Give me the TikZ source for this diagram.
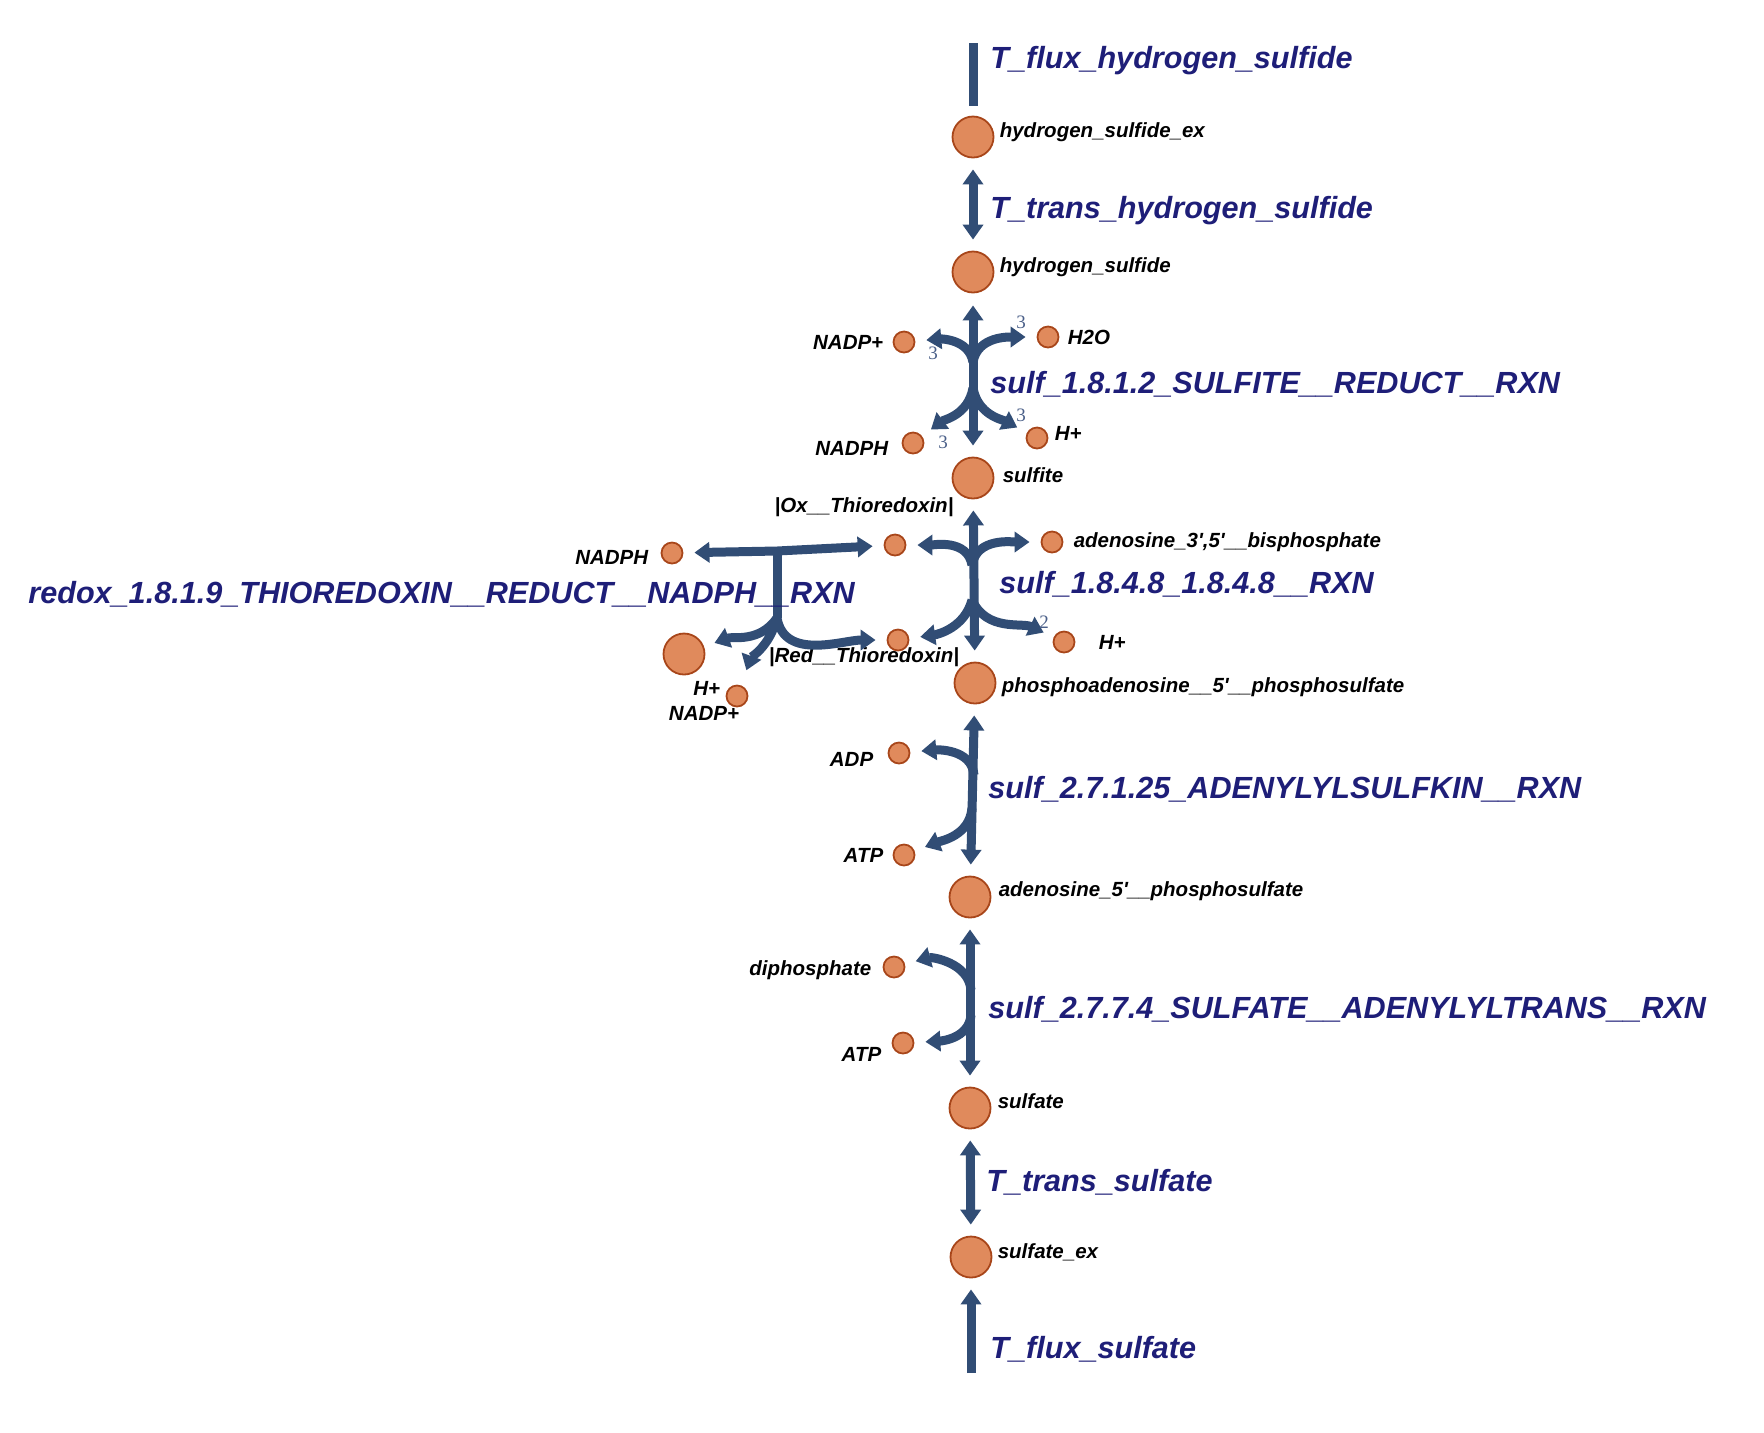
\documentclass[tikz,border=0pt]{standalone}
\usepackage{fontspec}
\usepackage{xcolor}
\usetikzlibrary{arrows.meta, positioning, calc}
\newfontfamily\labelfont{Liberation Sans}
\newfontfamily\stoichfont{Liberation Serif}
\definecolor{fluxblue}{HTML}{314D75}
\definecolor{metfill}{HTML}{E08A5C}
\definecolor{metdraw}{HTML}{A8461A}
\definecolor{rxnnavy}{HTML}{1E1E78}
\definecolor{stoichblue}{HTML}{4A5F88}

\begin{document}
\begin{tikzpicture}[
    x=0.5pt, y=-0.5pt,
    >={Triangle[width=10pt, length=7.5pt]},
    flux/.style={draw=fluxblue, line width=4.5pt, shorten >=5.5pt},
    revflux/.style={flux, <->, shorten <=5.5pt},
    bigmet/.style={circle, draw=metdraw, fill=metfill, line width=0.9pt, minimum size=20.5pt, inner sep=0pt},
    smallmet/.style={bigmet, minimum size=10.5pt},
    metlabel/.style={inner sep=0pt, font=\labelfont\bfseries\itshape\fontsize{10.25}{12}\selectfont},
    rxnlabel/.style={inner sep=0pt, anchor=west, text=rxnnavy, font=\labelfont\bfseries\itshape\fontsize{15.3}{18}\selectfont},
    stoich/.style={inner sep=0pt, text=stoichblue, font=\stoichfont\fontsize{9.5}{10}\selectfont}
]
    \useasboundingbox (0,0) rectangle (1764,1432);

    % main metabolites
    \node[bigmet] (h2sex) at (973,137) {};
    \node[bigmet] (h2s) at (973,272) {};
    \node[bigmet] (so3) at (973,478) {};
    \node[bigmet] (paps) at (975,683) {};
    \node[bigmet] (aps) at (970,897) {};
    \node[bigmet] (so4) at (970,1108) {};
    \node[bigmet] (so4ex) at (971,1257) {};
    % side metabolites
    \node[smallmet] (nadpA) at (904,342) {};
    \node[smallmet] (h2o) at (1048,337) {};
    \node[smallmet] (nadphA) at (913,443) {};
    \node[smallmet] (hA) at (1037,438) {};
    \node[smallmet] (pap) at (1052,542) {};
    \node[smallmet] (trxox) at (895,545) {};
    \node[smallmet] (trxred) at (898,640) {};
    \node[smallmet] (hB) at (1064,642) {};
    \node[smallmet] (nadphB) at (672,553) {};
    \node[bigmet] (nadpB) at (684,654) {};
    \node[smallmet] (hC) at (737,696) {};
    \node[smallmet] (adp) at (899,753) {};
    \node[smallmet] (atpA) at (904,855) {};
    \node[smallmet] (ppi) at (894,967) {};
    \node[smallmet] (atpB) at (903,1043) {};

    % metabolite labels
    \node[metlabel, right=2.5pt of h2sex, yshift=2.5pt] (h2sexlab) {hydrogen\_sulfide\_ex};
    \node[metlabel, right=2.5pt of h2s, yshift=2.5pt] (h2slab) {hydrogen\_sulfide};
    \node[metlabel, right=4pt of so3, yshift=1.5pt] (so3lab) {sulfite};
    \node[metlabel, right=2.5pt of paps, yshift=-2pt] (papslab) {phosphoadenosine\_\_5'\_\_phosphosulfate};
    \node[metlabel, right=3.5pt of aps, yshift=3pt] (apslab) {adenosine\_5'\_\_phosphosulfate};
    \node[metlabel, right=3pt of so4, yshift=3.5pt] (so4lab) {sulfate};
    \node[metlabel, right=2.5pt of so4ex, yshift=2.5pt] (so4exlab) {sulfate\_ex};
    \node[metlabel, left=4.5pt of nadpA] (nadpAlab) {NADP+};
    \node[metlabel, right=4pt of h2o] (h2olab) {H2O};
    \node[metlabel, left=6.5pt of nadphA, yshift=-2.5pt] (nadphAlab) {NADPH};
    \node[metlabel, right=3pt of hA, yshift=2.5pt] (hAlab) {H+};
    \node[metlabel, right=5pt of pap] (paplab) {adenosine\_3',5'\_\_bisphosphate};
    \node[metlabel] (trxoxlab) at (864,507) {|Ox\_\_Thioredoxin|};
    \node[metlabel] (trxredlab) at (864,657) {|Red\_\_Thioredoxin|};
    \node[metlabel, right=11.5pt of hB] (hBlab) {H+};
    \node[metlabel, left=6pt of nadphB, yshift=-2pt] (nadphBlab) {NADPH};
    \node[metlabel, left=2.5pt of hC, yshift=4pt] (hClab) {H+};
    \node[metlabel] (nadpBlab) at (704,713) {NADP+};
    \node[metlabel, left=7pt of adp, yshift=-3pt] (adplab) {ADP};
    \node[metlabel, left=4.5pt of atpA] (atpAlab) {ATP};
    \node[metlabel, left=5.5pt of ppi, yshift=-1.5pt] (ppilab) {diphosphate};
    \node[metlabel, left=5pt of atpB, yshift=-5.5pt] (atpBlab) {ATP};

    % exchange and transport
    \coordinate (h2sflux) at (973,43);
    \coordinate (so4flux) at (971,1373);
    \draw[flux, shorten >=5pt] (h2sflux) -- (h2sex);
    \draw[flux, ->] (so4flux) -- (so4ex);
    \draw[revflux] (h2sex) -- (h2s);
    \draw[revflux] (so4) -- (so4ex);

    % sulf_1.8.1.2
    \coordinate (r1up) at (973,362);
    \coordinate (r1low) at (973,388);
    \draw[revflux, shorten <=6pt] (h2s) -- (so3);
    \draw[flux, ->] (r1up) to[out=100, in=5] (nadpA);
    \draw[flux, ->] (r1up) to[out=80, in=180] (h2o);
    \draw[flux, ->] (r1low) to[out=260, in=37] (nadphA);
    \draw[flux, ->] (r1low) to[out=280, in=152] (hA);

    % sulf_1.8.4.8
    \coordinate (r2up) at (972,565);
    \coordinate (r2low) at (972,600);
    \draw[revflux] (so3) -- (paps);
    \draw[flux, ->] (r2up) to[out=100, in=0] (trxox);
    \draw[flux, ->] (r2up) to[out=80, in=180] (pap);
    \draw[flux, ->] (r2low) to[out=255, in=8] (trxred);
    \draw[flux, ->] (r2low) to[out=295, in=155] (hB);

    % redox_1.8.1.9
    \coordinate (r3up) at (777,551);
    \coordinate (r3low) at (777,618);
    \draw[revflux] (nadphB) -- (r3up) -- (trxox);
    \draw[flux, shorten >=0pt] (r3up) -- (r3low);
    \draw[flux, ->] (r3low) to[out=-80, in=180] (trxred);
    \draw[flux, ->] (r3low) to[out=235, in=20] (nadpB);
    \draw[flux, ->, shorten >=8pt] (r3low) to[out=255, in=70] (hC);

    % sulf_2.7.1.25
    \coordinate (r4up) at (974,775);
    \coordinate (r4low) at (972,808);
    \draw[revflux] (paps) -- (aps);
    \draw[flux, ->] (r4up) to[out=95, in=5] (adp);
    \draw[flux, ->] (r4low) to[out=265, in=21] (atpA);

    % sulf_2.7.7.4
    \coordinate (r5up) at (971,990);
    \coordinate (r5low) at (971,1015);
    \draw[revflux] (aps) -- (so4);
    \draw[flux, ->] (r5up) to[out=95, in=15] (ppi);
    \draw[flux, ->] (r5low) to[out=265, in=3] (atpB);

    % stoichiometry
    \node[stoich] (st1a) at (933,353) {3};
    \node[stoich] (st1b) at (1021,322) {3};
    \node[stoich] (st1c) at (943,442) {3};
    \node[stoich] (st1d) at (1021,415) {3};
    \node[stoich] (st2a) at (1044,622) {2};

    % reaction labels
    \node[rxnlabel] (lflux1) at (990,61) {T\_flux\_hydrogen\_sulfide};
    \node[rxnlabel] (ltrans1) at (990,211) {T\_trans\_hydrogen\_sulfide};
    \node[rxnlabel] (lsulf1) at (990,384) {sulf\_1.8.1.2\_SULFITE\_\_REDUCT\_\_RXN};
    \node[rxnlabel] (lsulf2) at (999,584) {sulf\_1.8.4.8\_1.8.4.8\_\_RXN};
    \node[rxnlabel] (lredox) at (28,594) {redox\_1.8.1.9\_THIOREDOXIN\_\_REDUCT\_\_NADPH\_\_RXN};
    \node[rxnlabel] (lsulf3) at (988,789) {sulf\_2.7.1.25\_ADENYLYLSULFKIN\_\_RXN};
    \node[rxnlabel] (lsulf4) at (988,1009) {sulf\_2.7.7.4\_SULFATE\_\_ADENYLYLTRANS\_\_RXN};
    \node[rxnlabel] (ltrans2) at (986,1182) {T\_trans\_sulfate};
    \node[rxnlabel] (lflux2) at (990,1349) {T\_flux\_sulfate};
\end{tikzpicture}
\end{document}
